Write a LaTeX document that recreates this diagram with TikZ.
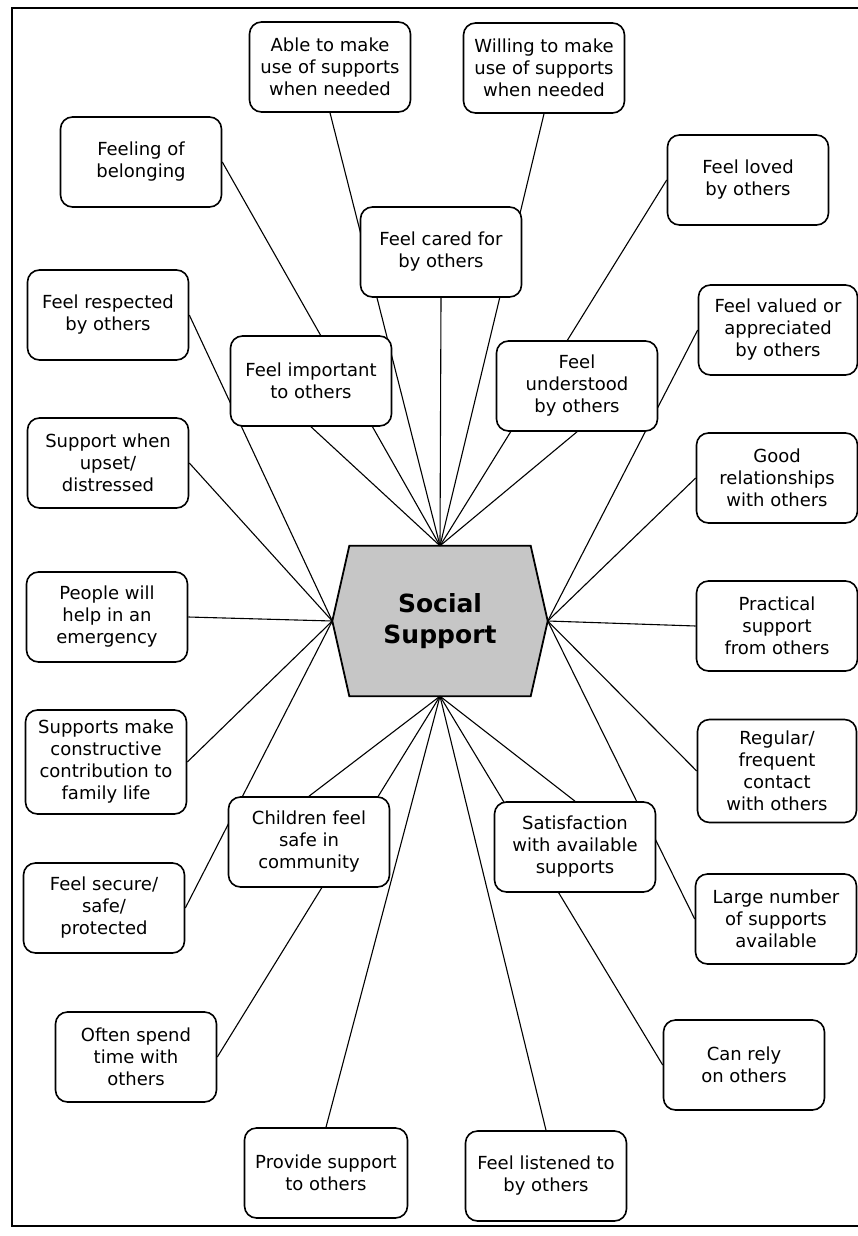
\documentclass[tikz,border=0pt]{standalone}
\usepackage{fontspec}
\setmainfont{DejaVu Sans}
\usetikzlibrary{backgrounds}

\begin{document}
\begin{tikzpicture}[x=1pt,y=-1pt]
       \tikzstyle{box} = [rectangle, draw, line width=1.6pt, rounded corners=12pt, fill=white, minimum width=161pt, minimum height=90pt, inner sep=2pt, align=center, font=\fontsize{18}{22}\selectfont];
       \tikzstyle{link} = [line width=1.1pt];

       \useasboundingbox (0,0) rectangle (858,1236);
       \draw[line width=1.8pt] (858,8) -- (12,8) -- (12,1226) -- (858,1226);

       % centre
       \node[minimum width=215pt, minimum height=150pt, inner sep=0pt, align=center, font=\bfseries\fontsize{25}{31}\selectfont] (social) at (440,621) {Social\\Support};

       % top
       \node[box] (able) at (330,67) {Able to make\\use of supports\\when needed};
       \node[box] (willing) at (544,68) {Willing to make\\use of supports\\when needed};
       \node[box] (belonging) at (141,162) {Feeling of\\belonging};
       \node[box] (cared) at (441,252) {Feel cared for\\by others};
       \node[box] (loved) at (748,180) {Feel loved\\by others};
       \node[box] (respected) at (108,315) {Feel respected\\by others};
       \node[box] (important) at (311,381) {Feel important\\to others};
       \node[box] (understood) at (577,386) {Feel\\understood\\by others};
       \node[box, minimum width=159pt] (valued) at (778,330) {Feel valued or\\appreciated\\by others};

       % sides
       \node[box] (upset) at (108,463) {Support when\\upset/\\distressed};
       \node[box] (relations) at (777,478) {Good\\relationships\\with others};
       \node[box] (emergency) at (107,617) {People will\\help in an\\emergency};
       \node[box] (practical) at (777,626) {Practical\\support\\from others};
       \node[box, minimum height=104pt] (constructive) at (106,762) {Supports make\\constructive\\contribution to\\family life};
       \node[box, minimum width=159pt, minimum height=103pt] (regular) at (777,771) {Regular/\\frequent\\contact\\with others};

       % bottom
       \node[box] (children) at (309,842) {Children feel\\safe in\\community};
       \node[box] (satisfied) at (575,847) {Satisfaction\\with available\\supports};
       \node[box] (secure) at (104,908) {Feel secure/\\safe/\\protected};
       \node[box] (largenum) at (776,919) {Large number\\of supports\\available};
       \node[box] (often) at (136,1057) {Often spend\\time with\\others};
       \node[box] (rely) at (744,1065) {Can rely\\on others};
       \node[box, minimum width=163pt] (provide) at (326,1173) {Provide support\\to others};
       \node[box] (listened) at (546,1176) {Feel listened to\\by others};

       \begin{scope}[on background layer]
         \draw[line width=1.8pt, fill=gray!45] (social.west) -- ([xshift=17pt]social.north west) -- ([xshift=-17pt]social.north east) -- (social.east) -- ([xshift=-17pt]social.south east) -- ([xshift=17pt]social.south west) -- cycle;

         \draw[link] (belonging.east) -- (social.north);
         \draw[link] (important.south) -- (social.north);
         \draw[link] (able.south) -- (social.north);
         \draw[link] (cared.south) -- (social.north);
         \draw[link] (willing.south) -- (social.north);
         \draw[link] (understood.south) -- (social.north);
         \draw[link] (loved.west) -- (social.north);

         \draw[link] (respected.east) -- (social.west);
         \draw[link] (upset.east) -- (social.west);
         \draw[link] (emergency.east) -- (social.west);
         \draw[link] (constructive.east) -- (social.west);
         \draw[link] (secure.east) -- (social.west);

         \draw[link] (valued.west) -- (social.east);
         \draw[link] (relations.west) -- (social.east);
         \draw[link] (practical.west) -- (social.east);
         \draw[link] (regular.west) -- (social.east);
         \draw[link] (largenum.west) -- (social.east);

         \draw[link] (children.north) -- (social.south);
         \draw[link] (often.east) -- (social.south);
         \draw[link] (provide.north) -- (social.south);
         \draw[link] (listened.north) -- (social.south);
         \draw[link] (satisfied.north) -- (social.south);
         \draw[link] (rely.west) -- (social.south);
       \end{scope}
\end{tikzpicture}
\end{document}
